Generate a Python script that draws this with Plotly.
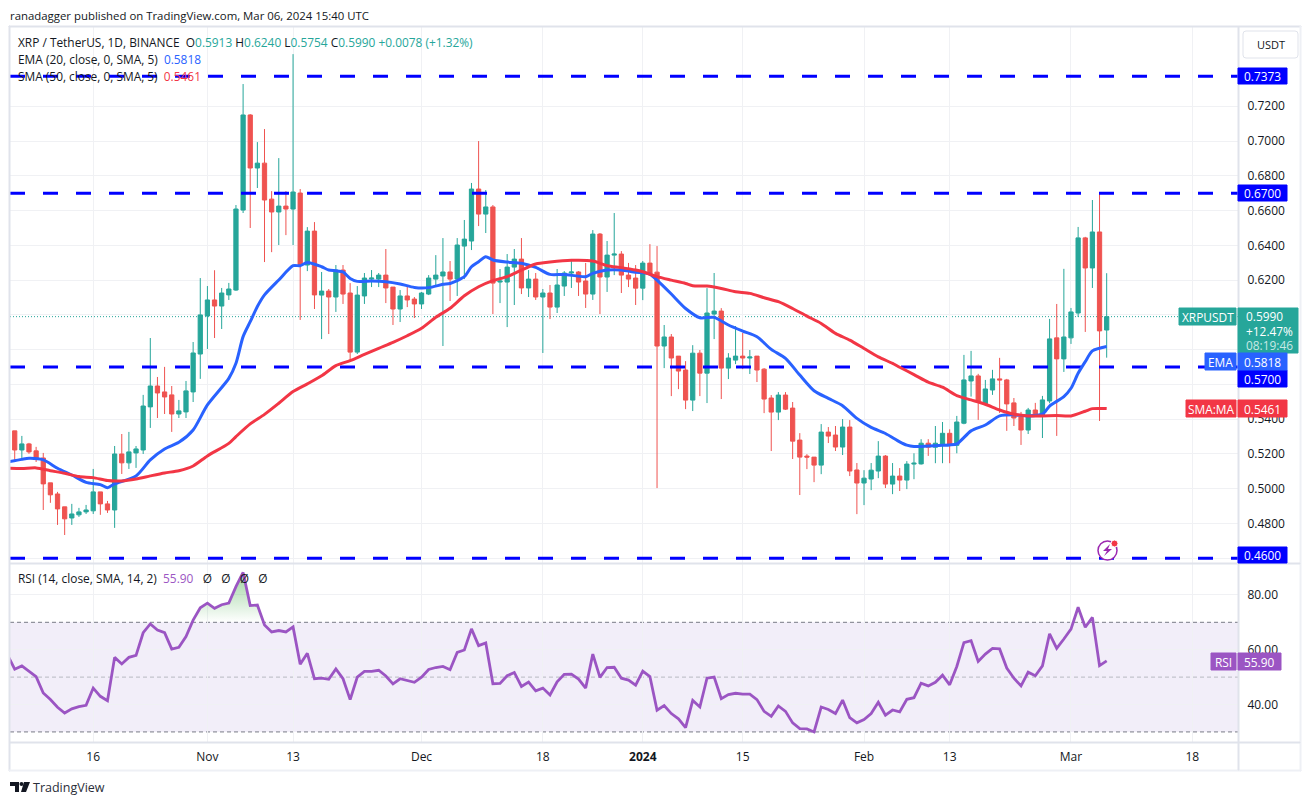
import numpy as np
import pandas as pd
import plotly.graph_objects as go
from plotly.subplots import make_subplots

# ----- DATA -----
first_day = "2023-10-05"

opens = [.5333, .5223, .5258, .5218, .5177, .5034, .4970, .4896, .4832, .4850, .4867, .4873, .4982, .4913, .4878, .5200,
         .5149, .5206, .5223, .5471, .5591, .5557, .5540, .5430, .5442, .5557, .5775, .5994, .6086, .6051, .6115, .6143,
         .6603, .7150, .6845, .6873, .6666, .6592, .6626, .6609, .6701, .6287, .6482, .6114, .6137, .6103, .6258, .6126,
         .5786, .6109, .6206, .6206, .6229, .6160, .6034, .6109, .6091, .6063, .6120, .6206, .6224, .6247, .6206, .6396,
         .6425, .6724, .6580, .6621, .6189, .6189, .6275, .6321, .6155, .6206, .6103, .6126, .6045, .6166, .6241, .6247,
         .6195, .6120, .6465, .6218, .6344, .6350, .6229, .6212, .6154, .6298, .6246, .5821, .5873, .5763, .5683, .5510,
         .5780, .5665, .6005, .6022, .5694, .5740, .5763, .5752, .5763, .5688, .5522, .5441, .5539, .5464, .5280, .5188,
         .5182, .5136, .5326, .5309, .5240, .5355, .5108, .5033, .5056, .5102, .5188, .5027, .5073, .5050, .5142, .5143,
         .5262, .5239, .5250, .5319, .5250, .5377, .5620, .5649, .5488, .5568, .5632, .5626, .5494, .5413, .5338, .5453,
         .5419, .5505, .5868, .5747, .5868, .6011, .6443, .6270, .6477, .5913]
highs = [.5333, .5304, .5264, .5241, .5206, .5034, .4982, .4896, .4913, .4890, .4907, .5114, .4982, .4930, .5246, .5315,
         .5327, .5246, .5540, .5867, .5643, .5701, .5591, .5511, .5620, .5844, .6212, .6166, .6257, .6155, .6184, .6632,
         .7328, .7155, .6994, .7069, .6712, .6902, .6712, .7500, .6724, .6505, .6534, .6247, .6149, .6287, .6287, .6183,
         .6166, .6241, .6258, .6241, .6379, .6160, .6143, .6172, .6103, .6132, .6229, .6344, .6442, .6310, .6442, .6546,
         .6759, .7000, .6718, .6632, .6264, .6350, .6379, .6442, .6258, .6241, .6149, .6172, .6264, .6252, .6321, .6252,
         .6299, .6488, .6471, .6425, .6586, .6367, .6299, .6287, .6310, .6407, .6396, .5942, .5890, .5763, .5734, .5826,
         .5798, .6154, .6241, .6039, .5780, .5936, .5896, .5798, .5763, .5694, .5539, .5556, .5556, .5499, .5320, .5199,
         .5182, .5372, .5355, .5361, .5401, .5395, .5148, .5107, .5148, .5274, .5194, .5148, .5119, .5159, .5204, .5285,
         .5285, .5361, .5384, .5342, .5419, .5770, .5793, .5661, .5626, .5684, .5753, .5632, .5522, .5442, .5465, .5494,
         .5534, .5977, .6063, .6265, .6040, .6506, .6449, .6661, .6700, .6240]
lows = [.5160, .5175, .5201, .5154, .4878, .4919, .4792, .4734, .4792, .4838, .4855, .4855, .4850, .4861, .4775, .5085,
        .5114, .5120, .5200, .5350, .5407, .5430, .5327, .5407, .5407, .5499, .5632, .5804, .5867, .5919, .6086, .6138,
        .6586, .6500, .6730, .6304, .6361, .6402, .6459, .6402, .5971, .6252, .6034, .5861, .5890, .6017, .6063, .5729,
        .5775, .6063, .6160, .6160, .6068, .5942, .5959, .6045, .5982, .6034, .6114, .6172, .5821, .6080, .6109, .6206,
        .6373, .6511, .6471, .6005, .6068, .5930, .6057, .6120, .6103, .6086, .5781, .5976, .6011, .6109, .6155, .6109,
        .6040, .6086, .6005, .6132, .6229, .6126, .6160, .6057, .6085, .6225, .5004, .5694, .5533, .5573, .5458, .5447,
        .5533, .5493, .5861, .5516, .5631, .5717, .5688, .5660, .5614, .5435, .5217, .5395, .5453, .5171, .4964, .5113,
        .5038, .5084, .5263, .5217, .5194, .5073, .4854, .4906, .4992, .5061, .5004, .4969, .4987, .4998, .5055, .5139,
        .5189, .5147, .5147, .5147, .5204, .5371, .5530, .5396, .5476, .5540, .5436, .5333, .5361, .5252, .5315, .5413,
        .5292, .5492, .5304, .5672, .5833, .5988, .5902, .6155, .5390, .5754]
closes = [.5223, .5258, .5212, .5172, .5028, .4965, .4884, .4827, .4855, .4867, .4878, .4982, .4913, .4878, .5200, .5149,
          .5212, .5229, .5476, .5591, .5551, .5528, .5430, .5448, .5563, .5781, .6000, .6086, .6051, .6126, .6149, .6609,
          .7150, .6845, .6873, .6661, .6592, .6626, .6609, .6707, .6287, .6482, .6115, .6137, .6103, .6258, .6120, .5786,
          .6114, .6212, .6212, .6229, .6155, .6034, .6109, .6086, .6063, .6126, .6212, .6229, .6247, .6206, .6402, .6436,
          .6724, .6580, .6621, .6183, .6195, .6275, .6321, .6155, .6206, .6103, .6126, .6045, .6172, .6241, .6247, .6189,
          .6120, .6465, .6218, .6344, .6350, .6229, .6206, .6154, .6298, .6235, .5821, .5873, .5752, .5677, .5510, .5780,
          .5665, .6011, .6022, .5694, .5752, .5763, .5752, .5758, .5683, .5516, .5441, .5539, .5458, .5274, .5182, .5182,
          .5136, .5326, .5303, .5240, .5355, .5102, .5033, .5061, .5107, .5188, .5027, .5073, .5050, .5142, .5147, .5262,
          .5239, .5262, .5319, .5250, .5384, .5626, .5649, .5503, .5574, .5632, .5626, .5488, .5407, .5338, .5453, .5419,
          .5511, .5862, .5747, .5873, .6017, .6443, .6270, .6477, .5908, .5990]

ema_days = [-1, 1, 2, 4, 6, 8, 10, 12, 13, 14, 17, 19, 21, 23, 25, 27, 30, 31, 32, 33, 34, 35, 37, 39, 40, 41, 43, 44, 45,
            46, 47, 48, 50, 52, 54, 56, 58, 60, 61, 63, 64, 65, 66, 67, 69, 71, 73, 75, 77, 80, 81, 83, 85, 87, 88, 89,
            90, 92, 94, 96, 98, 100, 102, 104, 106, 108, 110, 112, 114, 116, 118, 120, 122, 124, 125, 126, 128, 130,
            131, 132, 134, 136, 138, 140, 142, 144, 145, 147, 148, 149, 150, 151, 153]
ema_values = [.5154, .5169, .5175, .5166, .5118, .5079, .5037, .5024, .5006, .5028, .5074, .5166, .5229, .5267, .5338,
              .5482, .5635, .5722, .5875, .5961, .6048, .6115, .6201, .6283, .6283, .6302, .6277, .6258, .6254, .6247,
              .6210, .6193, .6195, .6191, .6178, .6158, .6157, .6176, .6181, .6220, .6277, .6306, .6335, .6316, .6304,
              .6297, .6273, .6233, .6233, .6220, .6239, .6258, .6258, .6245, .6243, .6235, .6200, .6120, .6037, .5984,
              .5986, .5942, .5907, .5874, .5802, .5750, .5654, .5564, .5520, .5478, .5405, .5353, .5318, .5270, .5251,
              .5243, .5246, .5250, .5252, .5258, .5333, .5367, .5419, .5425, .5419, .5429, .5476, .5530, .5578, .5664,
              .5731, .5793, .5818]

sma_days = [-1, 1, 3, 5, 7, 9, 11, 13, 15, 17, 19, 21, 23, 25, 27, 30, 31, 33, 35, 37, 39, 41, 43, 45, 47, 49, 51, 53, 55,
            57, 59, 61, 63, 65, 67, 69, 71, 73, 75, 78, 81, 83, 85, 87, 88, 90, 92, 94, 95, 97, 99, 101, 103, 105, 107,
            109, 111, 113, 115, 117, 119, 121, 123, 124, 126, 128, 130, 132, 134, 136, 138, 140, 142, 144, 146, 148,
            150, 151, 153]
sma_values = [.5118, .5116, .5120, .5104, .5089, .5070, .5064, .5047, .5045, .5056, .5074, .5091, .5104, .5131, .5189,
              .5261, .5300, .5373, .5428, .5492, .5559, .5603, .5650, .5708, .5737, .5773, .5808, .5842, .5880, .5923,
              .5986, .6038, .6110, .6162, .6197, .6220, .6258, .6293, .6304, .6314, .6310, .6283, .6272, .6258, .6248,
              .6220, .6200, .6181, .6168, .6166, .6152, .6133, .6124, .6099, .6076, .6037, .5993, .5951, .5894, .5855,
              .5807, .5759, .5721, .5699, .5657, .5613, .5584, .5536, .5511, .5486, .5453, .5429, .5419, .5419, .5421,
              .5419, .5446, .5461, .5461]

# starts one day before the first candle so the line reaches the pane edge
rsi_values = [58.0, 52.9, 54.1, 52.1, 50.2, 44.2, 41.8, 39.0, 36.9, 38.4, 39.2, 39.7, 46.0, 43.0, 41.4, 57.2, 54.8, 57.2,
              57.9, 66.2, 69.4, 67.2, 66.2, 60.2, 60.9, 64.8, 70.8, 75.3, 77.0, 75.1, 76.4, 77.0, 83.0, 88.2, 76.1, 76.3,
              69.0, 66.5, 67.0, 66.5, 68.3, 54.7, 58.7, 49.4, 49.6, 49.2, 53.0, 49.4, 41.8, 50.0, 52.1, 52.1, 52.5, 50.4,
              47.5, 49.4, 48.8, 48.1, 50.0, 52.8, 53.5, 53.9, 52.7, 59.0, 59.9, 67.6, 61.5, 62.5, 47.6, 47.7, 50.5, 51.7,
              46.6, 48.2, 45.0, 46.0, 43.5, 48.3, 51.0, 51.1, 49.3, 46.0, 58.4, 49.9, 53.5, 53.6, 49.6, 48.9, 47.1, 52.2,
              50.2, 37.9, 39.6, 36.7, 34.8, 31.6, 41.5, 39.1, 49.6, 50.0, 42.1, 43.6, 44.1, 43.8, 43.8, 41.8, 37.5, 35.7,
              39.5, 37.5, 33.3, 31.2, 31.1, 30.0, 39.1, 38.2, 36.7, 41.6, 35.2, 33.3, 34.5, 36.7, 40.8, 36.1, 38.0, 37.3,
              41.9, 42.5, 47.8, 46.8, 48.1, 50.7, 47.2, 53.9, 62.6, 63.3, 55.7, 58.4, 60.5, 60.3, 53.3, 49.6, 46.8, 51.8,
              50.5, 54.1, 65.8, 60.5, 63.9, 67.5, 75.5, 68.2, 71.8, 54.2, 55.9]

levels = [0.7373, 0.67, 0.57, 0.46]
last_close = 0.5990
price_ticks = [.46, .48, .50, .52, .54, .56, .58, .60, .62, .64, .66, .68, .70, .72]
# labels sitting fully behind the price tags are left blank
price_labels = ["", "0.4800", "0.5000", "0.5200", "0.5400", "", "", "", "0.6200", "0.6400", "0.6600", "0.6800",
                "0.7000", "0.7200"]
rsi_ticks = [40, 60, 80]
date_ticks = ["2023-10-16", "2023-11-01", "2023-11-13", "2023-12-01", "2023-12-18", "2024-01-01",
              "2024-01-15", "2024-02-01", "2024-02-13", "2024-03-01", "2024-03-18"]
date_labels = ["16", "Nov", "13", "Dec", "18", "<b>2024</b>", "15", "Feb", "13", "Mar", "18"]
# -------------------------------------

W, H = 1312, 805
FONT = "Open Sans"
TEXT = "#131722"
UP = "#26a69a"
DOWN = "#ef5350"
LEVEL = "#0000ff"
EMA = "#2962ff"
SMA = "#f23645"
RSI = "#9b55c3"
BORDER = "#e0e3eb"
GRID = "#f0f1f4"


def px(x):
    return x / W


def py(y):
    return 1 - y / H


dates = pd.date_range(first_day, periods=len(closes))
start = pd.Timestamp(first_day)
x_range = [start + pd.Timedelta(days=-0.66), start + pd.Timedelta(days=171.4)]


def day_to_date(days):
    return [start + pd.Timedelta(days=d) for d in days]


fig = make_subplots(rows=2, cols=1, shared_xaxes=True, vertical_spacing=0)

# dashed levels go first so the candles sit on top of them
for level in levels:
    fig.add_trace(go.Scatter(x=x_range, y=[level, level], mode="lines", hoverinfo="skip",
                             line=dict(color=LEVEL, width=3, dash="15px,18px")), row=1, col=1)

fig.add_trace(go.Candlestick(x=dates, open=opens, high=highs, low=lows, close=closes,
                             increasing=dict(line=dict(color=UP, width=1), fillcolor=UP),
                             decreasing=dict(line=dict(color=DOWN, width=1), fillcolor=DOWN),
                             whiskerwidth=0, hoverinfo="skip"), row=1, col=1)
fig.add_trace(go.Scatter(x=day_to_date(ema_days), y=ema_values, mode="lines",
                         line=dict(color=EMA, width=3, shape="spline", smoothing=0.7), hoverinfo="skip"), row=1, col=1)
fig.add_trace(go.Scatter(x=day_to_date(sma_days), y=sma_values, mode="lines",
                         line=dict(color=SMA, width=3, shape="spline", smoothing=0.7), hoverinfo="skip"), row=1, col=1)

# RSI pane: overbought fill, then the line
rsi_dates = day_to_date(range(-1, len(rsi_values) - 1))
fig.add_trace(go.Scatter(x=rsi_dates, y=np.full(len(rsi_values), 70.0), mode="lines",
                         line=dict(width=0), hoverinfo="skip"), row=2, col=1)
fig.add_trace(go.Scatter(x=rsi_dates, y=np.maximum(rsi_values, 70.0), mode="lines", line=dict(width=0),
                         fill="tonexty",
                         fillgradient=dict(type="vertical", start=70, stop=90,
                                           colorscale=[[0, "rgba(76,175,80,0)"], [1, "rgba(76,175,80,0.6)"]]),
                         hoverinfo="skip"), row=2, col=1)
fig.add_trace(go.Scatter(x=rsi_dates, y=rsi_values, mode="lines",
                         line=dict(color=RSI, width=2.8), hoverinfo="skip"), row=2, col=1)

shapes = []
annotations = []


def text(x, y, s, size=11.9, color=TEXT, anchor="left"):
    annotations.append(dict(x=px(x), y=py(y), xref="paper", yref="paper", text=s, showarrow=False,
                            xanchor=anchor, yanchor="middle", align=anchor, borderpad=0, borderwidth=0,
                            font=dict(family=FONT, size=size, color=color)))


def box(x0, x1, y0, y1, color, line=None):
    shapes.append(dict(type="rect", xref="paper", yref="paper", x0=px(x0), x1=px(x1), y0=py(y0), y1=py(y1),
                       fillcolor=color, line=dict(color=line or color, width=1), layer="above"))


def tag(x0, x1, y0, y1, color, s):
    box(x0, x1, y0, y1, color)
    text((x0 + x1) / 2, (y0 + y1) / 2, s, color="white", anchor="center")


# last price line
shapes.append(dict(type="line", xref="paper", yref="y", x0=px(10), x1=px(1238), y0=last_close, y1=last_close,
                   line=dict(color=UP, width=1, dash="1px,2px"), layer="below"))

# RSI band
shapes.append(dict(type="rect", xref="paper", yref="y2", x0=px(10), x1=px(1238), y0=30, y1=70,
                   fillcolor="rgba(126,87,194,0.1)", line=dict(width=0), layer="below"))
for value, color in [(70, "#787b86"), (50, "#b8bac2"), (30, "#787b86")]:
    shapes.append(dict(type="line", xref="paper", yref="y2", x0=px(10), x1=px(1238), y0=value, y1=value,
                       line=dict(color=color, width=1, dash="4px,3px"), layer="below"))

# frame
box(9, 10, 26, 771, BORDER)
box(9, 1301, 26, 27, BORDER)
box(9, 1301, 770, 771, "#eef0f5")
box(1300, 1301, 26, 771, "#eef0f5")
box(10, 1300, 563, 564, BORDER)
box(10, 1300, 742, 743, BORDER)
box(1238, 1239, 27, 770, BORDER)

# price tags
tag(1238, 1287, 68, 84, LEVEL, "0.7373")
tag(1238, 1287, 185, 201, LEVEL, "0.6700")
tag(1238, 1287, 370, 387, LEVEL, "0.5700")
tag(1238, 1287, 547, 563, LEVEL, "0.4600")
box(1238, 1298, 308, 353, UP)
text(1246, 316, "0.5990", color="white")
text(1246, 331, "+12.47%", color="white")
text(1246, 345, "08:19:46", color="#c8e9e5")
tag(1179, 1236, 308, 325, UP, "XRPUSDT")
tag(1238, 1287, 353, 370, EMA, "0.5818")
tag(1205, 1236, 353, 370, EMA, "EMA")
tag(1238, 1287, 400, 417, SMA, "0.5461")
tag(1186, 1236, 400, 417, SMA, "SMA:MA")
tag(1238, 1281, 653, 670, RSI, "55.90")
tag(1211, 1236, 653, 670, RSI, "RSI")

# currency button
shapes.append(dict(type="path", xref="paper", yref="paper", layer="above", fillcolor="white",
                   line=dict(color=BORDER, width=1),
                   path=f"M{px(1246)},{py(31)} H{px(1295)} Q{px(1298)},{py(31)} {px(1298)},{py(34)} V{py(55)} "
                        f"Q{px(1298)},{py(58)} {px(1295)},{py(58)} H{px(1246)} Q{px(1243)},{py(58)} {px(1243)},{py(55)} "
                        f"V{py(34)} Q{px(1243)},{py(31)} {px(1246)},{py(31)} Z"))
text(1270.5, 44.5, "USDT", size=11, anchor="center")

# lightning badge
shapes.append(dict(type="circle", xref="paper", yref="paper", layer="above", x0=px(1098), x1=px(1117),
                   y0=py(541), y1=py(560), line=dict(color="#9c27b0", width=1.5), fillcolor="white"))
shapes.append(dict(type="path", xref="paper", yref="paper", layer="above", fillcolor="#9c27b0", line=dict(width=0),
                   path=f"M{px(1110)},{py(544)} L{px(1103)},{py(551)} H{px(1107)} L{px(1104)},{py(556)} "
                        f"L{px(1112)},{py(549)} H{px(1108)} Z"))
shapes.append(dict(type="circle", xref="paper", yref="paper", layer="above", x0=px(1111), x1=px(1118),
                   y0=py(540), y1=py(547), line=dict(color="white", width=1), fillcolor=SMA))

# TradingView logo
shapes.append(dict(type="path", xref="paper", yref="paper", layer="above", fillcolor=TEXT, line=dict(width=0),
                   path=f"M{px(10)},{py(782)} H{px(19)} V{py(792)} H{px(15)} V{py(786)} H{px(10)} Z "
                        f"M{px(24)},{py(782)} H{px(30)} L{px(26)},{py(792)} H{px(21)} Z"))
shapes.append(dict(type="circle", xref="paper", yref="paper", layer="above", x0=px(19.5), x1=px(23.5),
                   y0=py(782), y1=py(786), fillcolor=TEXT, line=dict(width=0)))
text(33, 787.5, "TradingView", size=12.5, color="#2a2e39")

# header and legend texts
text(10, 15, "ranadagger published on TradingView.com, Mar 06, 2024 15:40 UTC", size=11.4)
g = f'<span style="color:{UP}">'
text(18, 42, f"XRP / TetherUS, 1D, BINANCE  O{g}0.5913</span> H{g}0.6240</span> L{g}0.5754</span> "
             f"C{g}0.5990</span> {g}+0.0078 (+1.32%)</span>")
text(18, 59, f'EMA (20, close, 0, SMA, 5)  <span style="color:{EMA}">0.5818</span>')
text(18, 76, f'SMA (50, close, 0, SMA, 5)  <span style="color:{SMA}">0.5461</span>')
text(18, 578, f'RSI (14, close, SMA, 14, 2)  <span style="color:{RSI}">55.90</span>   Ø   Ø   Ø   Ø')

fig.update_layout(width=W, height=H, margin=dict(l=0, r=0, t=0, b=0), paper_bgcolor="white", plot_bgcolor="white",
                  showlegend=False, shapes=shapes, annotations=annotations, hovermode=False, boxgap=0.15,
                  font=dict(family=FONT, size=12, color=TEXT))

fig.update_xaxes(type="date", range=x_range, domain=[px(10), px(1238)], tickmode="array", tickvals=date_ticks,
                 ticktext=date_labels, showgrid=True, gridcolor=GRID, gridwidth=1, showline=False, zeroline=False,
                 rangeslider_visible=False, ticks="outside", ticklen=4, tickcolor="rgba(0,0,0,0)",
                 tickfont=dict(family=FONT, size=12, color=TEXT))
fig.update_yaxes(side="right", showgrid=True, gridcolor=GRID, gridwidth=1, zeroline=False, showline=False,
                 ticks="outside", ticklen=6, tickcolor="rgba(0,0,0,0)", tickfont=dict(family=FONT, size=12, color=TEXT))
fig.update_yaxes(domain=[py(563), py(27)], range=[0.46 - 4.7 / 1738.5, 0.46 + 531.3 / 1738.5], tickmode="array",
                 tickvals=price_ticks, ticktext=price_labels, row=1, col=1)
fig.update_yaxes(domain=[py(742), py(563)], range=[40 - 37.6 / 2.75, 80 + 32 / 2.75], tickmode="array",
                 tickvals=rsi_ticks, tickformat=".2f", row=2, col=1)

fig.write_html("out.html", config={"displayModeBar": False},
               post_script="document.body.style.margin='0';document.documentElement.style.overflow='hidden';"
                           "document.body.style.height='805px';document.body.style.overflow='hidden';")
